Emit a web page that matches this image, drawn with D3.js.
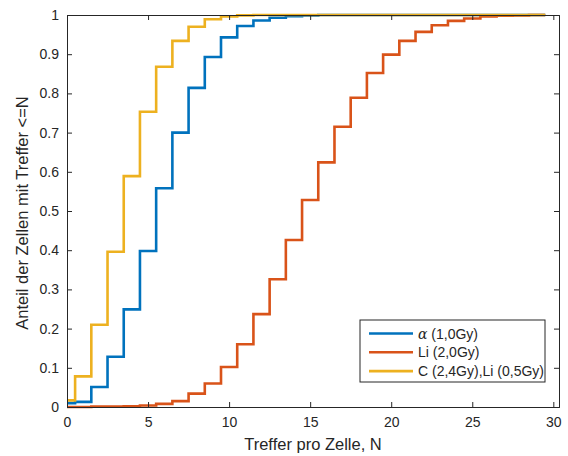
<!DOCTYPE html>
<html>
<head>
<meta charset="utf-8">
<script src="https://cdn.jsdelivr.net/npm/d3@7"></script>
<style>
  body { margin: 0; background: #fff; }
  text { font-family: "Liberation Sans", Arial, sans-serif; fill: #262626; }
</style>
</head>
<body>
<div id="chart"></div>
<script>
var width = 568;
var height = 456;
var margin = {top: 15, right: 9, bottom: 49, left: 67};

// hits per cell N = 0..29
var hits = d3.range(0, 30);
var alpha10 = [0.010, 0.013, 0.051, 0.128, 0.249, 0.398, 0.558, 0.700, 0.814, 0.893,
  0.943, 0.972, 0.986, 0.993, 0.997, 0.999, 1, 1, 1, 1,
  1, 1, 1, 1, 1, 1, 1, 1, 1, 1];
var li20 = [0.000, 0.000, 0.001, 0.001, 0.002, 0.004, 0.008, 0.015, 0.034, 0.060,
  0.102, 0.160, 0.237, 0.326, 0.426, 0.528, 0.624, 0.715, 0.789, 0.852,
  0.899, 0.934, 0.957, 0.974, 0.985, 0.991, 0.996, 0.998, 0.999, 1];
var cLi = [0.017, 0.078, 0.210, 0.396, 0.589, 0.753, 0.868, 0.934, 0.970, 0.989,
  0.996, 0.999, 1, 1, 1, 1, 1, 1, 1, 1,
  1, 1, 1, 1, 1, 1, 1, 1, 1, 1];
var seriesNames = ["\u03b1", "Li (2,0Gy)", "C (2,4Gy),Li (0,5Gy)"];
var seriesColors = ["#0072BD", "#D95319", "#EDB120"];
var xTicks = [0, 5, 10, 15, 20, 25, 30];
var yTicks = [0, 0.1, 0.2, 0.3, 0.4, 0.5, 0.6, 0.7, 0.8, 0.9, 1];

var w = width - margin.left - margin.right;
var h = height - margin.top - margin.bottom;

var svg = d3.select("#chart").append("svg")
  .attr("width", width)
  .attr("height", height);

var g = svg.append("g")
  .attr("transform", "translate(" + margin.left + "," + margin.top + ")");

var x = d3.scaleLinear().domain([0, 30.35]).range([0, w]);
var y = d3.scaleLinear().domain([0, 1]).range([h, 0]);

// stairs: value for N spans N-0.5 .. N+0.5, clipped at 0
function stairPoints(vals) {
  var pts = [];
  vals.forEach(function(v, i) {
    var n = hits[i];
    pts.push([Math.max(0, n - 0.5), v]);
    pts.push([n + 0.5, v]);
  });
  return pts;
}

var line = d3.line()
  .x(function(d) { return x(d[0]); })
  .y(function(d) { return y(d[1]); });

var allSeries = [alpha10, li20, cLi];
allSeries.forEach(function(vals, i) {
  g.append("path")
    .attr("d", line(stairPoints(vals)))
    .attr("fill", "none")
    .attr("stroke", seriesColors[i])
    .attr("stroke-width", 2.6)
    .attr("stroke-linejoin", "miter");
});

// axes, ticks inside, box on
var axisColor = "#262626";
var xAxis = d3.axisBottom(x).tickValues(xTicks).tickSize(-5).tickPadding(10).tickFormat(d3.format("d"));
var yAxis = d3.axisLeft(y).tickValues(yTicks).tickSize(-5).tickPadding(8).tickFormat(function(d) { return d === 0 || d === 1 ? d : d3.format(".1f")(d); });

var gx = g.append("g").attr("transform", "translate(0," + h + ")").call(xAxis);
var gy = g.append("g").call(yAxis);
var gxTop = g.append("g").call(d3.axisTop(x).tickValues(xTicks).tickSize(-5).tickFormat(""));
var gyRight = g.append("g").attr("transform", "translate(" + w + ",0)")
  .call(d3.axisRight(y).tickValues(yTicks).tickSize(-5).tickFormat(""));

[gx, gy, gxTop, gyRight].forEach(function(a) {
  a.select(".domain").attr("stroke", axisColor);
  a.selectAll(".tick line").attr("stroke", axisColor);
  a.selectAll(".tick text").style("font-size", "14px").attr("fill", axisColor)
    .style("font-family", "'Liberation Sans', Arial, sans-serif");
});

// axis titles
svg.append("text")
  .attr("text-anchor", "middle")
  .attr("transform", "translate(" + (margin.left + w / 2) + "," + (height - 6) + ")")
  .style("font-size", "16.5px")
  .text("Treffer pro Zelle, N");
svg.append("text")
  .attr("text-anchor", "middle")
  .attr("transform", "translate(" + 28 + "," + (margin.top + h / 2 + 2) + ") rotate(-90)")
  .style("font-size", "16.5px")
  .text("Anteil der Zellen mit Treffer <=N");

// legend
var lg = svg.append("g").attr("transform", "translate(360,320)");
lg.append("rect")
  .attr("width", 185).attr("height", 62)
  .attr("fill", "#fff").attr("stroke", "#262626").attr("stroke-width", 1);
seriesNames.forEach(function(name, i) {
  var yy = 13.5 + i * 18.8;
  lg.append("line")
    .attr("x1", 9).attr("x2", 53)
    .attr("y1", yy).attr("y2", yy)
    .attr("stroke", seriesColors[i]).attr("stroke-width", 2.6);
  var t = lg.append("text")
    .attr("x", 58).attr("y", yy + 5)
    .style("font-size", "14px");
  if (i === 0) {
    t.append("tspan").style("font-family", "'DejaVu Serif', serif").style("font-style", "italic").text(name);
    t.append("tspan").text(" (1,0Gy)");
  } else {
    t.text(name);
  }
});
</script>
</body>
</html>
